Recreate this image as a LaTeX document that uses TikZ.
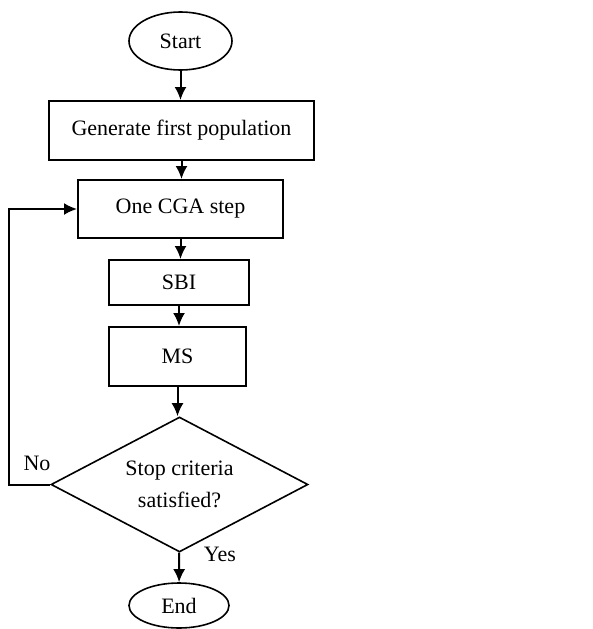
\documentclass[tikz,border=0pt]{standalone}
\usepackage{fontspec}
\setmainfont{Liberation Serif}
\usepackage{tikz}
\usetikzlibrary{shapes.geometric}
\usetikzlibrary{arrows.meta}

\begin{document}
\begin{tikzpicture}[x=1pt,y=-1pt]
\fontsize{22}{32}\selectfont
\tikzstyle{cell}=[rectangle,draw,line width=2pt,inner sep=0pt]
\tikzstyle{term}=[ellipse,draw,line width=1.6pt,inner sep=0pt]
\tikzstyle{flow}=[draw,line width=2pt,-{Latex[length=13pt,width=12pt]}]
\useasboundingbox (0,0) rectangle (592,629);

\node[term,minimum width=103pt,minimum height=58pt] (start) at (180.5,41) {Start} ;
\node[cell,minimum width=265pt,minimum height=59pt] (gen) at (181.5,130.5) {Generate first population} ;
\node[cell,minimum width=205pt,minimum height=58pt] (cga) at (180.5,209) {One CGA step} ;
\node[cell,minimum width=140pt,minimum height=45pt] (sbi) at (179,282.5) {SBI} ;
\node[cell,minimum width=137pt,minimum height=59pt] (ms) at (177.5,356.5) {MS} ;
\node[diamond,draw,line width=1.6pt,inner sep=0pt,aspect=1.9,minimum width=257pt,minimum height=135pt,align=center] (stop) at (179.5,484.5) {Stop criteria\\satisfied?} ;
\node[term,minimum width=100pt,minimum height=45pt] (end) at (179,605.5) {End} ;

\node (no) at (37,463) {No} ;
\node (yes) at (220,554) {Yes} ;

% main chain
\draw[flow] (start) -- (start|-gen.north) ;
\draw[flow] (gen) -- (gen|-cga.north) ;
\draw[flow] (cga) -- (cga|-sbi.north) ;
\draw[flow] (sbi) -- (sbi|-ms.north) ;
\draw[flow] (ms) -- (ms|-stop.north) ;
\draw[flow] (stop) -- (end) ;
% loop back
\draw[flow] (stop.west) -- ++(-41,0) |- (cga.west) ;

\end{tikzpicture}
\end{document}
